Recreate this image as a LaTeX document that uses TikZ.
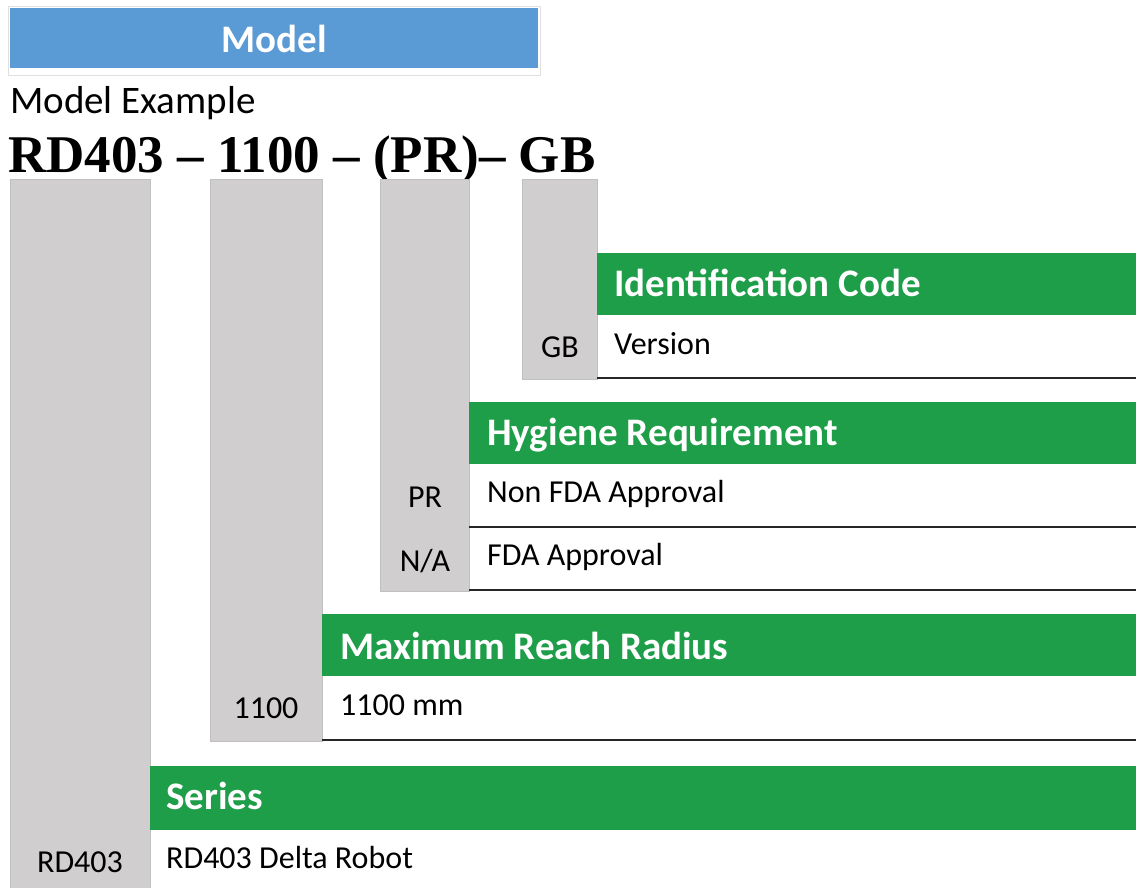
\documentclass[tikz,border=0pt]{standalone}
\usepackage{fontspec}
\setmainfont{Carlito}
\newfontfamily\codefont{Liberation Serif}
\definecolor{hdrblue}{HTML}{5B9BD5}
\definecolor{codegreen}{HTML}{1E9E48}
\definecolor{codegray}{HTML}{D0CECF}
\begin{document}
\begin{tikzpicture}[x=1pt,y=-1pt,
  graybox/.style={fill=codegray,draw=black!25,line width=0.8pt},
  greenbar/.style={fill=codegreen},
  rowline/.style={line width=2pt,black!85},
  head/.style={anchor=base west,inner sep=0pt,text=white,font=\fontsize{39}{45}\selectfont\bfseries},
  item/.style={anchor=base west,inner sep=0pt,font=\fontsize{32}{38}\selectfont},
  codetxt/.style={anchor=base,inner sep=0pt,font=\fontsize{32}{38}\selectfont}]
\useasboundingbox (0,0) rectangle (1136,887);
\draw[black!12,line width=1pt] (8,6) rectangle (540,75);
\fill[hdrblue] (10,8) rectangle (538,68);
\node[anchor=base,inner sep=0pt,text=white,font=\fontsize{39}{45}\selectfont\bfseries] (title) at (274,52) {Model};
\node[anchor=base west,inner sep=0pt,font=\fontsize{39}{45}\selectfont] (example) at (10,113) {Model Example};
\node[anchor=base west,inner sep=0pt,font=\codefont\fontsize{53}{60}\selectfont\bfseries] (code) at (8,172) {RD403 – 1100 – (PR)– GB};
\draw[graybox] (10,179) rectangle (150,895);
\draw[graybox] (210,179) rectangle (322,741);
\draw[graybox] (380,179) rectangle (469,591);
\draw[graybox] (522,179) rectangle (597,379);
\fill[greenbar] (597,253) rectangle (1136,315);
\fill[greenbar] (469,402) rectangle (1136,464);
\fill[greenbar] (322,614) rectangle (1136,676);
\fill[greenbar] (150,766) rectangle (1136,830);
\draw[rowline] (597,378) -- (1136,378);
\draw[rowline] (469,527) -- (1136,527);
\draw[rowline] (469,590) -- (1136,590);
\draw[rowline] (322,740) -- (1136,740);
% identification code
\node[head] (ident) at (614,296) {Identification Code};
\node[item] (version) at (614,354) {Version};
\node[codetxt] (gb) at (560,357) {GB};
% hygiene
\node[head] (hygiene) at (487,445) {Hygiene Requirement};
\node[item] (nonfda) at (487,502) {Non FDA Approval};
\node[codetxt] (pr) at (425,507) {PR};
\node[item] (fda) at (487,565) {FDA Approval};
\node[codetxt] (na) at (425,571) {N/A};
% reach
\node[head] (reach) at (340,659) {Maximum Reach Radius};
\node[item] (mm) at (340,715) {1100 mm};
\node[codetxt] (radius) at (266,718) {1100};
% series
\node[head] (series) at (166,809) {Series};
\node[item] (robot) at (166,868) {RD403 Delta Robot};
\node[codetxt] (rd) at (80,872) {RD403};
\end{tikzpicture}
\end{document}
